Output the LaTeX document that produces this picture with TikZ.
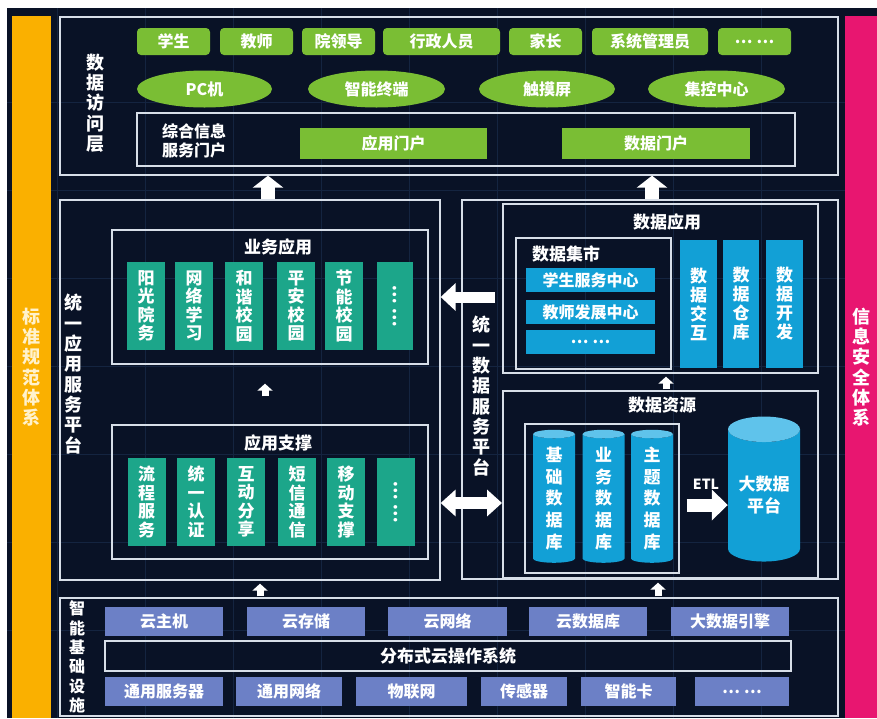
\documentclass[tikz,border=0pt]{standalone}
\usepackage{fontspec}
\setmainfont{Noto Sans CJK SC}
\usetikzlibrary{arrows.meta,calc,positioning,fit,shapes.geometric}

\definecolor{bgnavy}{RGB}{9,18,38}
\definecolor{gridnavy}{RGB}{20,36,64}
\definecolor{framegray}{RGB}{215,222,232}
\definecolor{usrgreen}{RGB}{122,190,52}
\definecolor{appteal}{RGB}{28,166,138}
\definecolor{datablue}{RGB}{18,160,214}
\definecolor{datablueend}{RGB}{95,195,235}
\definecolor{hwblue}{RGB}{108,128,198}
\definecolor{barorange}{RGB}{250,176,0}
\definecolor{barpink}{RGB}{232,22,112}
\definecolor{stdtext}{RGB}{255,242,205}

\tikzset{
  frame/.style={draw=framegray,line width=1.3pt,inner sep=0pt},
  boxtxt/.style={text=white,inner sep=0pt,font=\fontsize{16}{19}\selectfont\bfseries},
  usr/.style={boxtxt,fill=usrgreen,rounded corners=4pt,minimum height=27pt},
  term/.style={boxtxt,ellipse,fill=usrgreen,minimum height=37pt},
  portal/.style={boxtxt,fill=usrgreen,minimum height=31pt},
  appcol/.style={boxtxt,fill=appteal,align=center,minimum width=38pt,minimum height=88pt,
    font=\fontsize{17}{18.5}\selectfont\bfseries},
  datacol/.style={boxtxt,fill=datablue,align=center,minimum width=37pt,minimum height=128pt,
    font=\fontsize{17}{19}\selectfont\bfseries},
  martbar/.style={boxtxt,fill=datablue,minimum width=129pt,minimum height=24pt},
  hw/.style={boxtxt,fill=hwblue,minimum width=118pt,minimum height=29pt},
  cyl/.style={boxtxt,cylinder,shape border rotate=90,aspect=0.5,align=center,
    cylinder uses custom fill,cylinder body fill=datablue,cylinder end fill=datablueend,
    font=\fontsize{17}{21.7}\selectfont\bfseries},
  vlabel/.style={text=white,align=center,inner sep=0pt,font=\fontsize{18}{20.3}\selectfont\bfseries},
  title/.style={text=white,inner sep=0pt,font=\fontsize{17}{20}\selectfont\bfseries},
  fatup/.style={draw=white,line width=14pt,-{Triangle[length=12pt,width=30pt]}},
  smallup/.style={draw=white,line width=7pt,-{Triangle[length=7pt,width=15pt]}},
}

\begin{document}
\begin{tikzpicture}[x=1pt,y=-1pt]
  \useasboundingbox (0,0) rectangle (877,718);
  \fill[white] (0,0) rectangle (877,718);
  \fill[bgnavy] (7,8) rectangle (877,718);
  % faint background grid
  \foreach \gx in {57,145,233,321,409,497,585,673,761}
    \draw[gridnavy,line width=0.8pt] (\gx,8) -- (\gx,718);
  \foreach \gy in {102,190,278,366,454,542,630}
    \draw[gridnavy,line width=0.8pt] (7,\gy) -- (877,\gy);

  % side bars
  \node[fill=barorange,minimum width=39pt,minimum height=702pt,inner sep=0pt,anchor=north west] (stdbar) at (12,16) {};
  \node[vlabel,text=stdtext] (stdlbl) at (stdbar) {标\\准\\规\\范\\体\\系};
  \node[fill=barpink,minimum width=32pt,minimum height=702pt,inner sep=0pt,anchor=north west] (secbar) at (845,16) {};
  \node[vlabel] (seclbl) at (secbar) {信\\息\\安\\全\\体\\系};

  % data access layer
  \node[frame,fit={(60,17) (838,175)}] (access) {};
  \node[vlabel] (accesslbl) at (95,103) {数\\据\\访\\问\\层};
  \node[usr,minimum width=73pt] (stu) at (173.5,41.5) {学生};
  \node[usr,minimum width=73pt] (tea) at (256.5,41.5) {教师};
  \node[usr,minimum width=73pt] (lead) at (338.5,41.5) {院领导};
  \node[usr,minimum width=117pt] (admin) at (441.5,41.5) {行政人员};
  \node[usr,minimum width=73pt] (par) at (545.5,41.5) {家长};
  \node[usr,minimum width=116pt] (sysadm) at (650,41.5) {系统管理员};
  \node[usr,minimum width=73pt] (usrmore) at (754.5,41.5) {… …};
  \node[term,minimum width=135pt] (pc) at (204.5,89) {PC机};
  \node[term,minimum width=137pt] (smart) at (376.5,89) {智能终端};
  \node[term,minimum width=136pt] (touch) at (547,89) {触摸屏};
  \node[term,minimum width=137pt] (ctrl) at (716.5,89) {集控中心};
  \node[frame,fit={(137,113) (795,166)}] (portalbox) {};
  \node[boxtxt,align=left,anchor=west] (portallbl) at (162,141) {综合信息\\服务门户};
  \node[portal,minimum width=187pt] (appportal) at (393.5,143) {应用门户};
  \node[portal,minimum width=188pt] (dataportal) at (656,143) {数据门户};

  % unified application service platform
  \node[frame,fit={(60,200) (440,580)}] (app) {};
  \node[vlabel] (applbl) at (73,374) {统\\一\\应\\用\\服\\务\\平\\台};
  \node[frame,fit={(112,230) (428,364)}] (biz) {};
  \node[title] (bizlbl) at (278,247) {业务应用};
  \node[appcol] (sun) at (146,306) {阳\\光\\院\\务};
  \node[appcol] (elearn) at (194,306) {网\\络\\学\\习};
  \node[appcol] (harmony) at (244,306) {和\\谐\\校\\园};
  \node[appcol] (safe) at (296,306) {平\\安\\校\\园};
  \node[appcol] (green) at (344,306) {节\\能\\校\\园};
  \node[appcol,minimum width=36pt] (bizmore) at (395,306) {\rotatebox{90}{… …}};
  \node[frame,fit={(112,425) (428,559)}] (support) {};
  \node[title] (supportlbl) at (278,443) {应用支撑};
  \node[appcol] (flow) at (146.5,502) {流\\程\\服\\务};
  \node[appcol] (auth) at (196,502) {统\\一\\认\\证};
  \node[appcol] (share) at (246,502) {互\\动\\分\\享};
  \node[appcol] (sms) at (297,502) {短\\信\\通\\信};
  \node[appcol] (mobile) at (346,502) {移\\动\\支\\撑};
  \node[appcol] (supmore) at (396,502) {\rotatebox{90}{… …}};

  % unified data service platform
  \node[frame,fit={(462,200) (838,579)}] (dataplat) {};
  \node[vlabel] (datalbl) at (481,396) {统\\一\\数\\据\\服\\务\\平\\台};
  \node[frame,fit={(503,204) (818,373)}] (dapp) {};
  \node[title] (dapplbl) at (667,222) {数据应用};
  \node[frame,fit={(516,238) (671,369)}] (mart) {};
  \node[title,anchor=west] (martlbl) at (532,254) {数据集市};
  \node[martbar] (stusvc) at (590.5,280) {学生服务中心};
  \node[martbar] (teadev) at (590.5,312) {教师发展中心};
  \node[martbar] (martmore) at (590.5,342) {… …};
  \node[datacol] (exch) at (698.5,304) {数\\据\\交\\互};
  \node[datacol,minimum width=36pt] (wh) at (741,304) {数\\据\\仓\\库};
  \node[datacol] (dev) at (784.5,304) {数\\据\\开\\发};
  \node[frame,fit={(503,391) (818,578)}] (dres) {};
  \node[title] (dreslbl) at (662,405) {数据资源};
  \node[frame,fit={(525,424) (679,573)}] (store) {};
  \node[cyl,minimum width=42pt,minimum height=133pt] (basedb) at (554,498.5) {基\\础\\数\\据\\库};
  \node[cyl,minimum width=42pt,minimum height=133pt] (bizdb) at (603.5,498.5) {业\\务\\数\\据\\库};
  \node[cyl,minimum width=42pt,minimum height=133pt] (topicdb) at (652,498.5) {主\\题\\数\\据\\库};
  \node[cyl,minimum width=72pt,minimum height=145pt,font=\fontsize{17}{22}\selectfont\bfseries] (bigdata) at (764,495.5) {大数据\\平台};
  \node[title,font=\fontsize{14}{16}\selectfont\bfseries] (etl) at (706,484) {ETL};

  % intelligent infrastructure
  \node[frame,fit={(60,598) (838,716)}] (infra) {};
  \node[vlabel,font=\fontsize{16}{19.4}\selectfont\bfseries] (infralbl) at (77,657) {智\\能\\基\\础\\设\\施};
  \node[hw] (host) at (164,621.5) {云主机};
  \node[hw] (cstore) at (306,621.5) {云存储};
  \node[hw,minimum width=119pt] (cnet) at (447.5,621.5) {云网络};
  \node[hw] (cdb) at (588,621.5) {云数据库};
  \node[hw] (engine) at (730,621.5) {大数据引擎};
  \node[frame,fit={(105,641) (791,671)}] (os) {};
  \node[title,font=\fontsize{17}{20}\selectfont\bfseries] (oslbl) at (os) {分布式云操作系统};
  \node[hw] (server) at (164,691.5) {通用服务器};
  \node[hw,minimum width=106pt] (gnet) at (289,691.5) {通用网络};
  \node[hw,minimum width=111pt] (iot) at (411.5,691.5) {物联网};
  \node[hw,minimum width=86pt] (sensor) at (524,691.5) {传感器};
  \node[hw,minimum width=95pt] (card) at (628.5,691.5) {智能卡};
  \node[hw,minimum width=94pt] (hwmore) at (742,691.5) {… …};

  % arrows
  \draw[fatup] (app.north -| 268,0) -- (access.south -| 268,0);
  \draw[fatup] (dataplat.north -| 652,0) -- (access.south -| 652,0);
  \draw[smallup,shorten <=28pt,shorten >=19pt] (support.north -| 265,0) -- (biz.south -| 265,0);
  \draw[smallup,shorten <=1pt,shorten >=3pt] (dres.north -| 666,0) -- (dapp.south -| 666,0);
  \draw[smallup,shorten <=1pt,shorten >=3pt] (infra.north -| 260,0) -- (app.south -| 260,0);
  \draw[smallup,shorten <=1pt,shorten >=3pt] (infra.north -| 658,0) -- (dataplat.south -| 658,0);
  \coordinate (pull) at (495,297);
  \draw[draw=white,line width=11pt,-{Triangle[length=15pt,width=27pt]}] (pull) -- (pull -| app.east);
  \coordinate (swap) at (502,503);
  \draw[draw=white,line width=12pt,{Triangle[length=15pt,width=26pt]}-{Triangle[length=15pt,width=26pt]}] (swap -| app.east) -- (swap);
  \draw[draw=white,line width=13pt,-{Triangle[length=16pt,width=30pt]},shorten <=7pt] (store.east |- 0,505) -- (bigdata.west |- 0,505);
\end{tikzpicture}
\end{document}
